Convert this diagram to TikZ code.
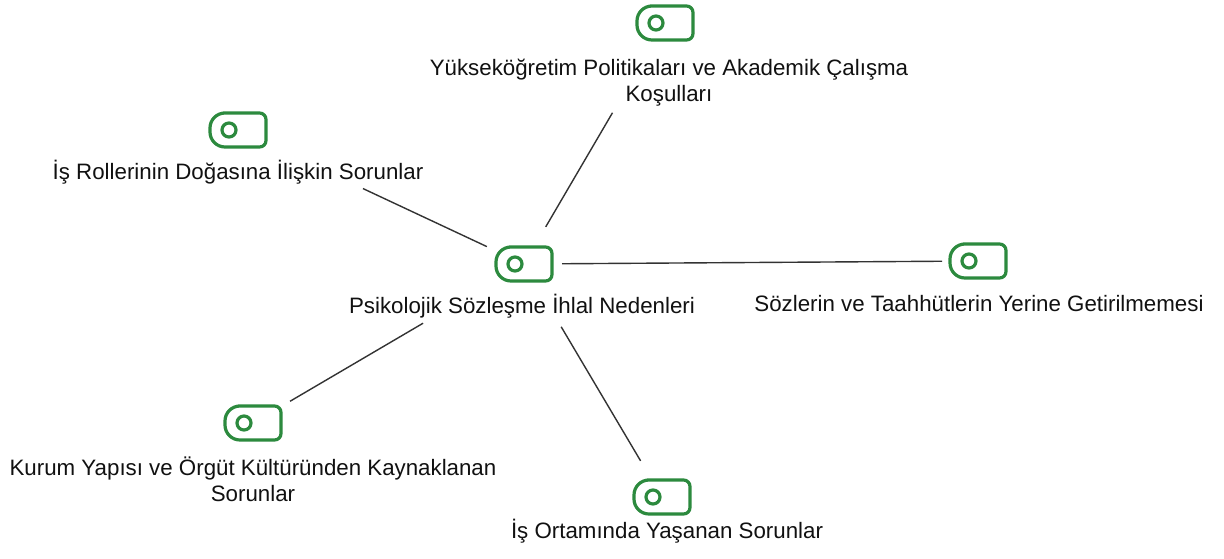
\documentclass[tikz,border=0pt]{standalone}
\usepackage{fontspec}
\setmainfont{Liberation Sans}
\definecolor{taggreen}{RGB}{44,138,62}
\definecolor{linkgray}{RGB}{51,51,51}
\definecolor{labelink}{RGB}{17,17,17}
\tikzset{
  iconbox/.style={rectangle, minimum width=59pt, minimum height=37pt, inner sep=0pt, draw=none},
  % multi-line labels: the base anchor sits on the last line
  label/.style={anchor=base, align=center, inner sep=0pt, text=labelink,
    font=\fontsize{22.3}{26}\selectfont},
  link/.style={draw=linkgray, line width=1.4pt},
  tagicon/.pic={
    \draw[taggreen, line width=3.2pt]
      (0,-17) [rounded corners=6.5pt] -- (28,-17) -- (28,17) -- (0,17)
      [rounded corners=15pt] -- (-28,17) -- (-28,-17) -- cycle;
    \draw[taggreen, line width=3.2pt] (-9,0) circle (7pt);
  }
}
\begin{document}
\begin{tikzpicture}[x=1pt,y=-1pt]
\useasboundingbox[fill=white] (0,0) rectangle (1224,558);

% icons
\node[iconbox] (c)  at (524,264) {};
\node[iconbox] (t)  at (665,23)  {};
\node[iconbox] (l)  at (238,130) {};
\node[iconbox] (r)  at (978,261) {};
\node[iconbox] (bl) at (253,423) {};
\node[iconbox] (b)  at (662,497) {};
\foreach \n in {c,t,l,r,bl,b} { \pic at (\n) {tagicon}; }

% labels
\node[label] (ct) at (522,313) {Psikolojik Sözleşme İhlal Nedenleri};
\node[label] (tt) at (669,101) {Yükseköğretim Politikaları ve Akademik Çalışma\\Koşulları};
\node[label] (lt) at (238,179) {İş Rollerinin Doğasına İlişkin Sorunlar};
\node[label] (rt) at (979,311) {Sözlerin ve Taahhütlerin Yerine Getirilmemesi};
\node[label] (blt) at (253,501) {Kurum Yapısı ve Örgüt Kültüründen Kaynaklanan\\Sorunlar};
\node[label] (bt) at (667,538) {İş Ortamında Yaşanan Sorunlar};

% connectors between icon centres
\draw[link, shorten <=43pt, shorten >=104pt] (c.center) -- (t.center);
\draw[link, shorten <=41pt, shorten >=138pt] (c.center) -- (l.center);
\draw[link, shorten <=38pt, shorten >=36pt]  (c.center) -- (r.center);
\draw[link, shorten <=117pt, shorten >=43pt] (c.center) -- (bl.center);
\draw[link, shorten <=73pt, shorten >=42pt]  (c.center) -- (b.center);
\end{tikzpicture}
\end{document}
